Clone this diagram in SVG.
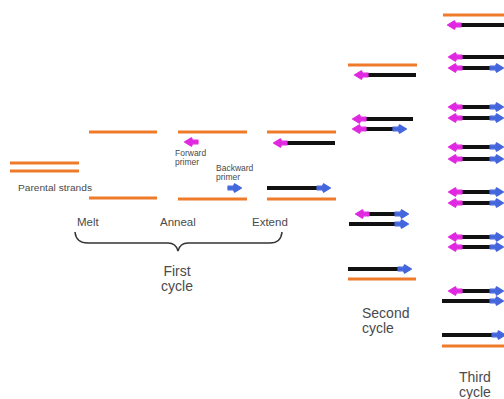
<svg xmlns="http://www.w3.org/2000/svg" xmlns:xlink="http://www.w3.org/1999/xlink" width="504" height="399" viewBox="0 0 504 399">
<style>
.o{stroke:#EE7A2A;stroke-width:3;fill:none}
.k{stroke:#111;stroke-width:4;fill:none}
.m{fill:#E028E0;stroke:#E028E0;stroke-width:1.2;stroke-linejoin:round}
.b{fill:#4466DD;stroke:#4466DD;stroke-width:1.2;stroke-linejoin:round}
.t{font-family:"Liberation Sans",Arial,sans-serif;fill:#4a4a4a}
.lbl{font-size:11.5px}
.cyc{font-size:14px}
.sm{font-size:8.5px}
.br{stroke:#333;stroke-width:1.5;fill:none}
</style>
<defs>
<path id="fp" d="M0.5,0 L7.5,-4.2 L8.5,-1.8 L14,-1.8 L14,1.8 L8.5,1.8 L7.5,4.2 Z"/>
<path id="bp" d="M-0.5,0 L-7.5,-4.2 L-8.5,-1.8 L-14,-1.8 L-14,1.8 L-8.5,1.8 L-7.5,4.2 Z"/>
</defs>
<rect width="504" height="399" fill="#fff"/>

<g id="parental">
<line class="o" x1="10" y1="163" x2="79" y2="163"/>
<line class="o" x1="10" y1="171" x2="79" y2="171"/>
<text class="t sm" x="18" y="191" textLength="74" lengthAdjust="spacingAndGlyphs">Parental strands</text>
</g>

<g id="melt">
<line class="o" x1="89" y1="132" x2="157" y2="132"/>
<line class="o" x1="89" y1="198" x2="157" y2="198"/>
<text class="t lbl" x="77" y="226">Melt</text>
</g>

<g id="anneal">
<line class="o" x1="178" y1="132" x2="247" y2="132"/>
<line class="o" x1="178" y1="199" x2="247" y2="199"/>
<use href="#fp" class="m" x="184" y="142"/>
<use href="#bp" class="b" x="242" y="188"/>
<text class="t sm" x="175" y="156">Forward</text>
<text class="t sm" x="175" y="165">primer</text>
<text class="t sm" x="216" y="171">Backward</text>
<text class="t sm" x="216" y="180">primer</text>
<text class="t lbl" x="160" y="226">Anneal</text>
</g>

<g id="extend">
<line class="o" x1="267" y1="132" x2="336" y2="132"/>
<line class="k" x1="286" y1="143" x2="335" y2="143"/>
<use href="#fp" class="m" x="273" y="143"/>
<line class="k" x1="267" y1="188" x2="317" y2="188"/>
<use href="#bp" class="b" x="331" y="188"/>
<line class="o" x1="267" y1="199" x2="336" y2="199"/>
<text class="t lbl" x="252" y="226">Extend</text>
</g>

<g id="first-cycle">
<path class="br" d="M75,232 Q76,243 88,243 L168,243 Q176,243 178,251 Q180,243 188,243 L270,243 Q281,243 282,232"/>
<text class="t cyc" x="177" y="276" text-anchor="middle">First</text>
<text class="t cyc" x="177" y="291" text-anchor="middle">cycle</text>
</g>

<g id="second-cycle">
<line class="o" x1="348" y1="65" x2="417" y2="65"/>
<line class="k" x1="367" y1="75" x2="416" y2="75"/>
<use href="#fp" class="m" x="354" y="75"/>
<line class="k" x1="365" y1="119" x2="413" y2="119"/>
<use href="#fp" class="m" x="352" y="119"/>
<line class="k" x1="365" y1="129" x2="394" y2="129"/>
<use href="#fp" class="m" x="352" y="129"/>
<use href="#bp" class="b" x="407" y="129"/>
<line class="k" x1="367" y1="214" x2="396" y2="214"/>
<use href="#fp" class="m" x="355" y="214"/>
<use href="#bp" class="b" x="409" y="214"/>
<line class="k" x1="349" y1="224" x2="396" y2="224"/>
<use href="#bp" class="b" x="409" y="224"/>
<line class="k" x1="348" y1="269" x2="400" y2="269"/>
<use href="#bp" class="b" x="412" y="269"/>
<line class="o" x1="348" y1="279" x2="416" y2="279"/>
<text class="t cyc" x="362" y="318">Second</text>
<text class="t cyc" x="362" y="333">cycle</text>
</g>

<g id="third-cycle">
<line class="o" x1="443" y1="15" x2="504" y2="15"/>
<line class="k" x1="461" y1="25" x2="504" y2="25"/>
<use href="#fp" class="m" x="447" y="25"/>
<line class="k" x1="461" y1="57" x2="504" y2="57"/>
<use href="#fp" class="m" x="448" y="57"/>
<line class="k" x1="461" y1="68" x2="491" y2="68"/>
<use href="#fp" class="m" x="448" y="68"/>
<use href="#bp" class="b" x="504" y="68"/>
<line class="k" x1="461" y1="107" x2="491" y2="107"/>
<use href="#fp" class="m" x="448" y="107"/>
<use href="#bp" class="b" x="504" y="107"/>
<line class="k" x1="461" y1="118" x2="491" y2="118"/>
<use href="#fp" class="m" x="448" y="118"/>
<use href="#bp" class="b" x="504" y="118"/>
<line class="k" x1="461" y1="147" x2="491" y2="147"/>
<use href="#fp" class="m" x="448" y="147"/>
<use href="#bp" class="b" x="504" y="147"/>
<line class="k" x1="461" y1="159" x2="491" y2="159"/>
<use href="#fp" class="m" x="448" y="159"/>
<use href="#bp" class="b" x="504" y="159"/>
<line class="k" x1="461" y1="192" x2="491" y2="192"/>
<use href="#fp" class="m" x="448" y="192"/>
<use href="#bp" class="b" x="504" y="192"/>
<line class="k" x1="461" y1="203" x2="491" y2="203"/>
<use href="#fp" class="m" x="448" y="203"/>
<use href="#bp" class="b" x="504" y="203"/>
<line class="k" x1="461" y1="237" x2="491" y2="237"/>
<use href="#fp" class="m" x="448" y="237"/>
<use href="#bp" class="b" x="504" y="237"/>
<line class="k" x1="461" y1="247" x2="491" y2="247"/>
<use href="#fp" class="m" x="448" y="247"/>
<use href="#bp" class="b" x="504" y="247"/>
<line class="k" x1="461" y1="291" x2="491" y2="291"/>
<use href="#fp" class="m" x="448" y="291"/>
<use href="#bp" class="b" x="504" y="291"/>
<line class="k" x1="442" y1="301" x2="491" y2="301"/>
<use href="#bp" class="b" x="504" y="301"/>
<line class="k" x1="442" y1="335" x2="493" y2="335"/>
<use href="#bp" class="b" x="506" y="335"/>
<line class="o" x1="442" y1="346" x2="504" y2="346"/>
<text class="t cyc" x="459" y="382">Third</text>
<text class="t cyc" x="459" y="397">cycle</text>
</g>
</svg>
